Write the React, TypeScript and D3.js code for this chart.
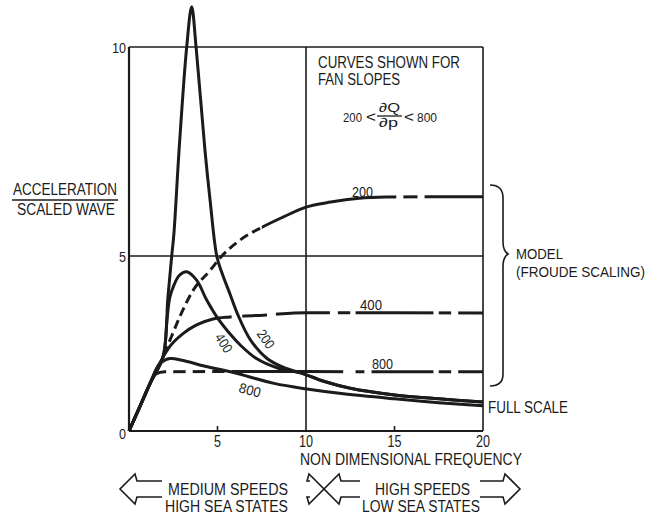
import React from "react";
import * as d3 from "d3";

// ---- data ----
const xTicks = [5, 10, 15, 20];
const yTicks = [0, 5, 10];

// full-scale curves
const fullScale200: [number, number][] = [
  [0, 0], [0.6, 0.68], [1.2, 1.37], [1.92, 2.11], [2.2, 3.83], [2.41, 4.98], [2.54, 5.55],
  [2.83, 7.54], [3.26, 10], [3.54, 10.96], [3.79, 10], [4.29, 7.54], [4.58, 6.34],
  [4.97, 4.97], [5.3, 4.45], [5.7, 3.92], [6.16, 3.31], [6.84, 2.62], [7.8, 2.07],
  [8.8, 1.8], [9.7, 1.66], [11, 1.42], [12.5, 1.22], [15, 1.03], [17.5, 0.92], [20, 0.83],
];
const fullScale400: [number, number][] = [
  [0, 0], [0.6, 0.68], [1.2, 1.37], [1.92, 2.11], [2.15, 3.2], [2.3, 3.8], [2.5, 4.12],
  [2.85, 4.45], [3.26, 4.55], [3.82, 4.31], [4.39, 3.74], [4.95, 3.27], [5.8, 2.72],
  [6.3, 2.45], [7.2, 2.07], [8.4, 1.8], [9.7, 1.66], [11, 1.42], [12.5, 1.22], [15, 1.03],
  [17.5, 0.92], [20, 0.83],
];
const fullScale800: [number, number][] = [
  [0, 0], [0.6, 0.68], [1.2, 1.37], [1.7, 1.9], [2.3, 2.07], [3, 2.02], [4.3, 1.85],
  [5.9, 1.67], [8.2, 1.36], [10.05, 1.2], [12, 1.07], [15, 0.92], [17.5, 0.81], [20, 0.72],
];

// model (Froude scaling) curves
const model200: [number, number][] = [
  [0, 0], [0.6, 0.68], [1.2, 1.37], [1.9, 2.1], [2.4, 2.7], [2.9, 3.3], [3.6, 4.0],
  [4.6, 4.6], [5.14, 4.94], [6.27, 5.38], [7.57, 5.7], [8.7, 5.93], [10, 6.17],
  [11.4, 6.29], [13, 6.38], [14.5, 6.41], [17, 6.42], [20, 6.42],
];
const model400: [number, number][] = [
  [0, 0], [0.6, 0.68], [1.2, 1.37], [1.8, 2.0], [2.3, 2.41], [3.07, 2.79], [3.82, 3.03],
  [4.75, 3.2], [5.7, 3.26], [7.6, 3.31], [10, 3.38], [15, 3.38], [20, 3.37],
];
const model800: [number, number][] = [
  [0, 0], [0.6, 0.68], [1.2, 1.37], [1.5, 1.62], [2.0, 1.69], [5, 1.7], [10, 1.7],
  [15, 1.69], [20, 1.69],
];

// ---- styling ----
const W = 665;
const H = 519;
const INK = "#1b1b1b";
const FONT = "'Liberation Sans', Arial, 'DejaVu Sans', sans-serif";

// solid pieces (x ranges) of the model curves; the rest is gaps
const solid200 = [[7.5, 15.1], [15.5, 16.3], [16.7, 20]];
const dashed200 = [1.9, 7.5];
const solid400 = [[0, 5.8], [6.4, 7.8], [8.3, 11.35], [11.8, 12.5], [12.8, 17.2], [17.5, 18.2], [18.6, 20]];
const solid800 = [[0, 2.1], [2.5, 3.2], [3.6, 4.3], [4.7, 5.4], [5.8, 12.1], [12.8, 13.3], [13.7, 17.2], [17.5, 18.2], [18.6, 20]];

export default function App() {
  const x = d3.scaleLinear().domain([0, 20]).range([129, 483]);
  const y = d3.scaleLinear().domain([0, 5, 10]).range([431, 256, 47]);
  const lineFS = d3
    .line<[number, number]>()
    .x((d) => x(d[0]))
    .y((d) => y(d[1]))
    .curve(d3.curveCatmullRom.alpha(0.5));
  const lineM = d3
    .line<[number, number]>()
    .x((d) => x(d[0]))
    .y((d) => y(d[1]))
    .curve(d3.curveMonotoneX);

  const clip = (id: string, ranges: number[][]) => (
    <clipPath id={id} key={id}>
      {ranges.map((r, i) => (
        <rect key={i} x={x(r[0])} y={0} width={x(r[1]) - x(r[0])} height={H} />
      ))}
    </clipPath>
  );

  const curveStyle = { fill: "none", stroke: INK, strokeWidth: 3, strokeLinecap: "butt" as const };

  const txt = (
    s: string,
    px: number,
    py: number,
    size: number,
    len?: number,
    anchor: "start" | "middle" | "end" = "start",
    extra: any = {}
  ) => (
    <text
      x={px}
      y={py}
      fontSize={size}
      fontFamily={FONT}
      fill={INK}
      textAnchor={anchor}
      textLength={len}
      lengthAdjust={len ? "spacingAndGlyphs" : undefined}
      {...extra}
    >
      {s}
    </text>
  );

  // double-headed hollow arrow, text sits in the shaft gap
  const arrow = (x0: number, x1: number, gap0: number, gap1: number, cy: number) => {
    const hh = 15, sh = 8, hl = 15;
    const top = cy - sh, bot = cy + sh;
    return (
      <g fill="none" stroke={INK} strokeWidth={1.6} strokeLinejoin="miter">
        <path d={`M${gap0},${top} L${x0 + hl + 2},${top} L${x0 + hl},${cy - hh} L${x0},${cy} L${x0 + hl},${cy + hh} L${x0 + hl + 2},${bot} L${gap0},${bot}`} />
        <path d={`M${gap1},${top} L${x1 - hl - 2},${top} L${x1 - hl},${cy - hh} L${x1},${cy} L${x1 - hl},${cy + hh} L${x1 - hl - 2},${bot} L${gap1},${bot}`} />
      </g>
    );
  };

  return (
    <svg width={W} height={H} style={{ position: "absolute", left: 0, top: 0, background: "#fff" }}>
      <defs>
        {clip("c200", solid200)}
        {clip("c200d", [dashed200])}
        {clip("c400", solid400)}
        {clip("c800", solid800)}
      </defs>

      {/* frame and reference lines */}
      <g stroke={INK} strokeWidth={1.6} fill="none">
        <line x1={x(0)} x2={x(20)} y1={y(0)} y2={y(0)} strokeWidth={2.2} />
        <line x1={x(0)} x2={x(0)} y1={y(0)} y2={y(10)} strokeWidth={2.2} />
        <line x1={x(0)} x2={x(20)} y1={y(10)} y2={y(10)} />
        <line x1={x(20)} x2={x(20)} y1={y(0)} y2={y(10)} />
        <line x1={x(0)} x2={x(20)} y1={y(5)} y2={y(5)} />
        <line x1={x(10)} x2={x(10)} y1={y(0)} y2={y(10)} />
        {xTicks.filter((t) => t !== 10 && t !== 20).map((t) => (
          <line key={t} x1={x(t)} x2={x(t)} y1={y(0)} y2={y(0) - 5} />
        ))}
      </g>

      {/* tick labels */}
      {xTicks.map((t) => (
        <React.Fragment key={"xt" + t}>{txt(String(t), x(t), y(0) + 16, 16, t < 10 ? 7 : 14, "middle")}</React.Fragment>
      ))}
      {yTicks.map((t) => (
        <React.Fragment key={"yt" + t}>{txt(String(t), 126, y(t) + (t === 0 ? 8 : 6), 14, t < 10 ? 7 : 14, "end")}</React.Fragment>
      ))}

      {/* axis titles */}
      {txt("ACCELERATION", 13, 195, 16, 104)}
      <line x1={12} x2={118} y1={200} y2={200} stroke={INK} strokeWidth={1.5} />
      {txt("SCALED WAVE", 17, 215, 16, 98)}
      {txt("NON DIMENSIONAL FREQUENCY", 300, 465, 16, 222)}

      {/* full-scale curves */}
      <path d={lineFS(fullScale200) || ""} {...curveStyle} />
      <path d={lineFS(fullScale400) || ""} {...curveStyle} />
      <path d={lineFS(fullScale800) || ""} {...curveStyle} />

      {/* model curves */}
      <path d={lineM(model200) || ""} {...curveStyle} clipPath="url(#c200)" />
      <path d={lineM(model200) || ""} {...curveStyle} strokeDasharray="9,5" clipPath="url(#c200d)" />
      <path d={lineM(model400) || ""} {...curveStyle} clipPath="url(#c400)" />
      <path d={lineM(model800) || ""} {...curveStyle} clipPath="url(#c800)" />

      {/* curve labels */}
      {txt("200", 352, 197, 15, 21)}
      {txt("400", 360, 310, 15, 22)}
      {txt("800", 372, 369, 15, 21)}
      <g transform="translate(266,339) rotate(55)">{txt("200", 0, 5, 14, 20, "middle")}</g>
      <g transform="translate(224,343) rotate(57)">{txt("400", 0, 5, 14, 20, "middle")}</g>
      <g transform="translate(250,390) rotate(15)">{txt("800", 0, 5, 14, 22, "middle")}</g>

      {/* annotation */}
      {txt("CURVES SHOWN FOR", 318, 68, 16, 142)}
      {txt("FAN SLOPES", 318, 85, 16, 82)}
      {txt("200", 343, 122, 13, 19)}
      {txt("<", 366, 122, 14, 10)}
      {txt("\u2202Q", 379, 112, 13, 21)}
      <line x1={377} x2={402} y1={116} y2={116} stroke={INK} strokeWidth={1.3} />
      {txt("\u2202p", 379, 127, 13, 19)}
      {txt("<", 404, 122, 14, 10)}
      {txt("800", 417, 122, 13, 20)}

      {/* brace + model label */}
      <path
        d="M490,185 C499,185 503,189 503,198 L503,242 C503,249 505,252 508,254 C505,256 503,259 503,266 L503,374 C503,382 499,386 490,386"
        fill="none"
        stroke={INK}
        strokeWidth={1.6}
      />
      {txt("MODEL", 516, 259, 15, 47)}
      {txt("(FROUDE SCALING)", 516, 277, 15, 129)}
      {txt("FULL SCALE", 488, 413, 16, 80)}

      {/* bottom arrows */}
      {arrow(120, 324, 162, 310, 489)}
      {arrow(324, 520, 360, 480, 489)}
      {txt("MEDIUM SPEEDS", 168, 495, 16, 120)}
      {txt("HIGH SEA STATES", 165, 512, 16, 123)}
      {txt("HIGH SPEEDS", 375, 495, 16, 95)}
      {txt("LOW SEA STATES", 362, 512, 16, 118)}
    </svg>
  );
}
